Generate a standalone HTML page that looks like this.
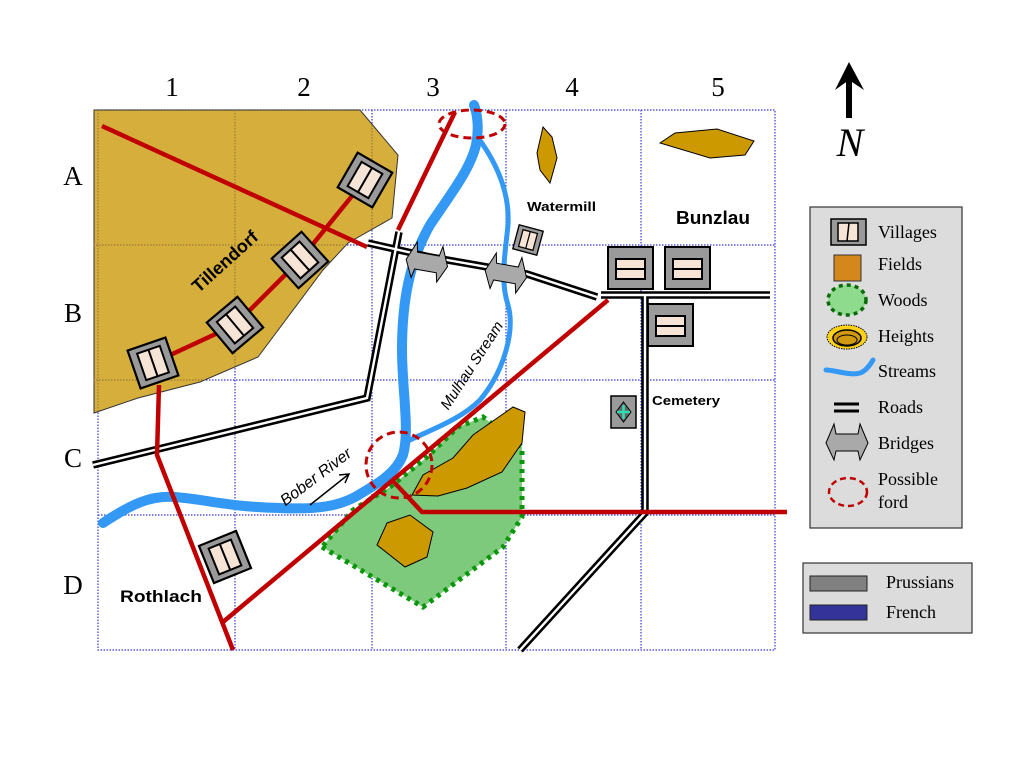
<!DOCTYPE html>
<html><head><meta charset="utf-8"><style>
html,body{margin:0;padding:0;background:#fff;}
svg{display:block;}
.lbl{font-family:"Liberation Serif",serif;font-size:27px;fill:#000;}
.lg{font-family:"Liberation Serif",serif;font-size:18px;fill:#000;}
.b{font-family:"Liberation Sans",sans-serif;font-weight:bold;fill:#000;}
.it{font-family:"Liberation Sans",sans-serif;font-style:italic;fill:#000;}
</style></head><body>
<svg width="1024" height="768" viewBox="0 0 1024 768" xmlns="http://www.w3.org/2000/svg">
<defs>
<clipPath id="fc"><polygon points="94,110 360,110 398,155 392,218 348,243 323,270 258,357 200,382 138,398 94,413"/></clipPath>
<g id="vil">
<rect x="-20" y="-20" width="40" height="40" fill="#9a9a9a" stroke="#000" stroke-width="2.2"/>
<rect x="-12" y="-14" width="24" height="28" fill="#f6e4d6" stroke="#000" stroke-width="2"/>
<line x1="0" y1="-14" x2="0" y2="14" stroke="#000" stroke-width="2"/>
</g>
<g id="vilh">
<rect x="0" y="0" width="45" height="42" fill="#9a9a9a" stroke="#000" stroke-width="2"/>
<rect x="8" y="12" width="29" height="20" fill="#f6e4d6" stroke="#000" stroke-width="2"/>
<line x1="8" y1="22" x2="37" y2="22" stroke="#000" stroke-width="2"/>
</g>
<path id="brg" d="M-21,1 L-13,-18 L-11,-8 L11,-8 L13,-18 L21,1 L13,18 L11,9 L-11,9 L-13,18 Z" fill="#a9a9a9" stroke="#000" stroke-width="1"/>
</defs>

<!-- grid -->
<g stroke="#3838d8" stroke-width="1.2" stroke-dasharray="1.5,1.5" fill="none">
<rect x="98" y="110" width="677" height="540"/>
<line x1="235" y1="110" x2="235" y2="650"/>
<line x1="372" y1="110" x2="372" y2="650"/>
<line x1="506" y1="110" x2="506" y2="650"/>
<line x1="641" y1="110" x2="641" y2="650"/>
<line x1="98" y1="245" x2="775" y2="245"/>
<line x1="98" y1="380" x2="775" y2="380"/>
<line x1="98" y1="515" x2="775" y2="515"/>
</g>

<!-- field -->
<polygon points="94,110 360,110 398,155 392,218 348,243 323,270 258,357 200,382 138,398 94,413" fill="#d6ae3b" stroke="#333" stroke-width="1"/>
<g clip-path="url(#fc)" stroke="#9a7a3a" stroke-width="1.2" stroke-dasharray="1.5,1.5">
<line x1="98" y1="110" x2="98" y2="420"/>
<line x1="235" y1="110" x2="235" y2="420"/>
<line x1="372" y1="110" x2="372" y2="420"/>
<line x1="90" y1="245" x2="400" y2="245"/>
<line x1="90" y1="380" x2="400" y2="380"/>
</g>

<!-- woods -->
<polygon points="322,547 423,607 503,547 522,517 522,447 483,417 458,427 427,457 390,487 353,510" fill="#7dca7d" stroke="#0a960a" stroke-width="5" stroke-dasharray="4,5"/>

<!-- heights -->
<g fill="#cc9900" stroke="#000" stroke-width="1">
<polygon points="412,495 423,475 453,458 473,435 513,407 525,412 522,443 502,472 467,488 438,496"/>
<polygon points="387,523 410,515 433,532 427,557 405,567 377,545"/>
<polygon points="543,127 552,137 557,158 550,183 540,170 537,153"/>
<polygon points="660,143 675,133 717,129 754,141 745,155 710,158"/>
</g>

<!-- streams -->
<path d="M103,523 C130,505 150,495 175,497 C210,500 230,507 280,508 C320,510 340,505 355,497 C375,485 395,475 403,455 C410,430 402,390 402,350 C402,300 410,260 430,225 C450,195 470,170 476,145 C480,125 476,110 474,105" fill="none" stroke="#3399f5" stroke-width="10" stroke-linecap="round"/>
<path d="M476,135 C495,160 510,190 508,225 C505,255 500,280 508,305 C515,330 505,370 480,400 C460,420 430,430 410,440" fill="none" stroke="#3399f5" stroke-width="5" stroke-linecap="round"/>

<!-- roads -->
<g fill="none" stroke-linejoin="miter">
<g stroke="#000" stroke-width="7.5">
<polyline points="93,465 367,398 399,232"/>
<polyline points="368,243 430,257 527,274 597,297"/>
<polyline points="601,295 770,295"/>
<polyline points="645,295 645,513 520,650"/>
</g>
<g stroke="#fff" stroke-width="2.4">
<polyline points="93,465 367,398 399,232"/>
<polyline points="368,243 430,257 527,274 597,297"/>
<polyline points="601,295 770,295"/>
<polyline points="645,295 645,513 520,650"/>
</g>
</g>

<!-- red roads -->
<g fill="none" stroke="#c00000" stroke-width="4.5" stroke-linejoin="round">
<polyline points="102,126 367,247"/>
<polyline points="365,180 300,260 235,325 153,363"/>
<polyline points="159,385 157,455 233,650"/>
<polyline points="223,622 608,300"/>
<polyline points="398,230 455,112"/>
<polyline points="392,480 422,512 787,512"/>
</g>

<!-- bridges -->
<use href="#brg" transform="translate(427,262) rotate(10)"/>
<use href="#brg" transform="translate(506,273) rotate(10)"/>

<!-- villages -->
<use href="#vil" transform="translate(365,180) rotate(30)"/>
<use href="#vil" transform="translate(300,260) rotate(-42)"/>
<use href="#vil" transform="translate(235,325) rotate(-40)"/>
<use href="#vil" transform="translate(153,363) rotate(-19)"/>
<use href="#vil" transform="translate(225,557) rotate(-22)"/>
<use href="#vil" transform="translate(528,240) rotate(15) scale(0.62)"/>
<use href="#vilh" transform="translate(608,247)"/>
<use href="#vilh" transform="translate(665,247)"/>
<use href="#vilh" transform="translate(648,304)"/>

<!-- cemetery -->
<rect x="611" y="396" width="25" height="32" fill="#9a9a9a" stroke="#000" stroke-width="1.5"/>
<polygon points="623.5,402 631,412 623.5,422 616,412" fill="#666" stroke="#000" stroke-width="1"/>
<path d="M623.5,405 V419 M617,412 H630" stroke="#2ee0b0" stroke-width="2.5"/>

<!-- fords -->
<g fill="none" stroke="#c00000" stroke-width="3" stroke-dasharray="8,5">
<ellipse cx="472" cy="124" rx="33" ry="14"/>
<circle cx="399" cy="465" r="33"/>
</g>

<!-- labels -->
<g class="lbl" text-anchor="middle">
<text x="172" y="96">1</text>
<text x="304" y="96">2</text>
<text x="433" y="96">3</text>
<text x="572" y="96">4</text>
<text x="718" y="96">5</text>
<text x="73" y="185">A</text>
<text x="73" y="322">B</text>
<text x="73" y="467">C</text>
<text x="73" y="594">D</text>
</g>

<text class="b" x="0" y="0" font-size="18" text-anchor="middle" transform="translate(229,266) rotate(-42)">Tillendorf</text>
<text class="b" x="527" y="211" font-size="13" textLength="69" lengthAdjust="spacingAndGlyphs">Watermill</text>
<text class="b" x="676" y="224" font-size="18" textLength="74" lengthAdjust="spacingAndGlyphs">Bunzlau</text>
<text class="b" x="120" y="602" font-size="17" textLength="82" lengthAdjust="spacingAndGlyphs">Rothlach</text>
<text class="b" x="652" y="405" font-size="13" textLength="68" lengthAdjust="spacingAndGlyphs">Cemetery</text>
<text class="it" x="0" y="0" font-size="16" text-anchor="middle" transform="translate(319,481) rotate(-37)">Bober River</text>
<text class="it" x="0" y="0" font-size="15" text-anchor="middle" transform="translate(476,368) rotate(-57)">Mulhau Stream</text>
<g stroke="#000" stroke-width="1.5" fill="none">
<line x1="310" y1="505" x2="349" y2="474"/>
<polyline points="339,475 349,474 345,483"/>
</g>

<!-- north arrow -->
<line x1="849" y1="80" x2="849" y2="118" stroke="#000" stroke-width="6"/>
<polygon points="849,62 864,90 849,80 835,90" fill="#000"/>
<text x="850" y="156" font-family="'Liberation Serif',serif" font-style="italic" font-size="40" text-anchor="middle">N</text>

<!-- legend -->
<rect x="810" y="207" width="152" height="321" fill="#dcdcdc" stroke="#333" stroke-width="1.2"/>
<rect x="831" y="219" width="35" height="26" fill="#9a9a9a" stroke="#000" stroke-width="1.5"/>
<rect x="838" y="223" width="20" height="18" fill="#f6e4d6" stroke="#000" stroke-width="1.5"/>
<line x1="849" y1="223" x2="847" y2="241" stroke="#000" stroke-width="1.5"/>
<rect x="834" y="255" width="27" height="26" fill="#d4881c" stroke="#333" stroke-width="1"/>
<ellipse cx="847" cy="300" rx="19" ry="15" fill="#8edb8e" stroke="#0a6a0a" stroke-width="3.5" stroke-dasharray="4,4"/>
<ellipse cx="847" cy="337" rx="20" ry="12" fill="#ffd21a" stroke="#000" stroke-width="1" stroke-dasharray="1.5,1"/>
<ellipse cx="847" cy="338" rx="14" ry="8" fill="#d09a10" stroke="#000" stroke-width="1.5"/>
<ellipse cx="847" cy="340" rx="10" ry="5" fill="none" stroke="#000" stroke-width="1"/>
<path d="M826,370 C835,370 850,376 860,373 C866,371 870,365 873,360" fill="none" stroke="#3399f5" stroke-width="5" stroke-linecap="round"/>
<line x1="834" y1="404" x2="859" y2="404" stroke="#000" stroke-width="3"/>
<line x1="834" y1="411" x2="859" y2="411" stroke="#000" stroke-width="3"/>
<use href="#brg" transform="translate(847,442)"/>
<ellipse cx="848" cy="492" rx="19" ry="14" fill="none" stroke="#c00000" stroke-width="2.5" stroke-dasharray="6,4"/>
<g class="lg">
<text x="878" y="238">Villages</text>
<text x="878" y="270">Fields</text>
<text x="878" y="306">Woods</text>
<text x="878" y="342">Heights</text>
<text x="878" y="377">Streams</text>
<text x="878" y="413">Roads</text>
<text x="878" y="449">Bridges</text>
<text x="878" y="485">Possible</text>
<text x="878" y="508">ford</text>
</g>

<rect x="803" y="563" width="169" height="70" fill="#dcdcdc" stroke="#333" stroke-width="1.2"/>
<rect x="810" y="576" width="57" height="15" fill="#808080" stroke="#222" stroke-width="1"/>
<rect x="810" y="605" width="57" height="15" fill="#333399" stroke="#222" stroke-width="1"/>
<g class="lg">
<text x="886" y="588">Prussians</text>
<text x="886" y="618">French</text>
</g>
</svg>
</body></html>
